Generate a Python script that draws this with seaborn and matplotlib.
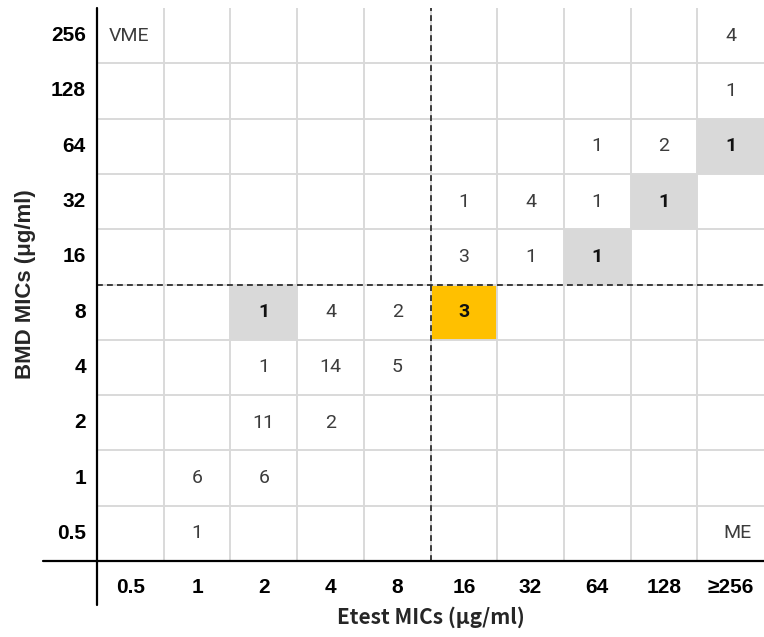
import numpy as np
import pandas as pd
import seaborn as sns
import matplotlib.pyplot as plt
from matplotlib.colors import ListedColormap
from matplotlib.lines import Line2D

# ---- data ----
x_labels = ['0.5', '1', '2', '4', '8', '16', '32', '64', '128', '≥256']
y_labels = ['256', '128', '64', '32', '16', '8', '4', '2', '1', '0.5']

counts = [
    [0, 0, 0, 0, 0, 0, 0, 0, 0, 4],
    [0, 0, 0, 0, 0, 0, 0, 0, 0, 1],
    [0, 0, 0, 0, 0, 0, 0, 1, 2, 1],
    [0, 0, 0, 0, 0, 1, 4, 1, 1, 0],
    [0, 0, 0, 0, 0, 3, 1, 1, 0, 0],
    [0, 0, 1, 4, 2, 3, 0, 0, 0, 0],
    [0, 0, 1, 14, 5, 0, 0, 0, 0, 0],
    [0, 0, 11, 2, 0, 0, 0, 0, 0, 0],
    [0, 6, 6, 0, 0, 0, 0, 0, 0, 0],
    [0, 1, 0, 0, 0, 0, 0, 0, 0, 0],
]
# highlighted cells: (row label, column label)
gray_cells = [('64', '≥256'), ('32', '128'), ('16', '64'), ('8', '2')]
orange_cells = [('8', '16')]

# ---- build tables ----
df_counts = pd.DataFrame(counts, index=y_labels, columns=x_labels)
df_codes = pd.DataFrame(0, index=y_labels, columns=x_labels)
for r, c in gray_cells:
    df_codes.loc[r, c] = 1
for r, c in orange_cells:
    df_codes.loc[r, c] = 2

sns.set_theme(style='white')
plt.rcParams['font.family'] = ['Liberation Sans', 'DejaVu Sans']

W, H = 764, 637
fig = plt.figure(figsize=(W / 100, H / 100), dpi=100)
ax = fig.add_axes([97 / W, 76 / H, 667 / W, 553 / H])

sns.heatmap(df_codes, cmap=ListedColormap(['white', '#d9d9d9', '#ffc000']),
            vmin=-0.5, vmax=2.5, cbar=False, ax=ax,
            xticklabels=x_labels, yticklabels=y_labels)

# grid lines
grid_c = '#d9d9d9'
for k in range(1, 10):
    ax.axhline(k, color=grid_c, lw=1.4, zorder=2)
    ax.axvline(k, color=grid_c, lw=1.4, zorder=2)

# dashed separators
ax.axvline(5, color='#222222', lw=1.2, ls=(0, (3.5, 2.5)), zorder=3)
ax.axhline(5, color='#222222', lw=1.2, ls=(0, (3.5, 2.5)), zorder=3)

# annotations
num_font = ['Roboto', 'DejaVu Sans']
for i, r in enumerate(y_labels):
    for j, c in enumerate(x_labels):
        v = df_counts.loc[r, c]
        if v > 0:
            code = df_codes.loc[r, c]
            bold = code > 0
            ax.text(j + 0.5, i + 0.5, str(v), ha='center', va='center',
                    fontsize=14, family=num_font,
                    fontweight='bold' if bold else 'normal',
                    color='#111111' if bold else '#3c3c3c', zorder=4)
ax.text(0.18, 0.5, 'VME', ha='left', va='center', fontsize=14, family=num_font,
        fontweight='normal', color='#3c3c3c', zorder=4)
ax.text(9.6, 9.5, 'ME', ha='center', va='center', fontsize=14, family=num_font,
        fontweight='normal', color='#3c3c3c', zorder=4)

# ticks
ax.tick_params(axis='both', length=0)
ax.tick_params(axis='x', pad=12)
ax.tick_params(axis='y', pad=8)
for t in ax.get_xticklabels():
    t.set_fontsize(15); t.set_fontweight('bold'); t.set_color('black'); t.set_rotation(0)
for t in ax.get_yticklabels():
    t.set_fontsize(15); t.set_fontweight('bold'); t.set_color('black'); t.set_rotation(0)

ax.set_xlabel('Etest MICs (μg/ml)', fontsize=15, fontweight='bold', labelpad=7,
              family=['Noto Sans CJK SC', 'DejaVu Sans'])
ax.set_ylabel('BMD MICs (μg/ml)', fontsize=16, fontweight='bold', labelpad=11)

for s in ax.spines.values():
    s.set_visible(False)

# extended axis lines
fig.add_artist(Line2D([97 / W, 97 / W], [1 - 8 / H, 1 - 605 / H], color='black', lw=1.6))
fig.add_artist(Line2D([43 / W, 1.0], [1 - 561 / H, 1 - 561 / H], color='black', lw=1.6))

fig.savefig('out.png', dpi=100)
